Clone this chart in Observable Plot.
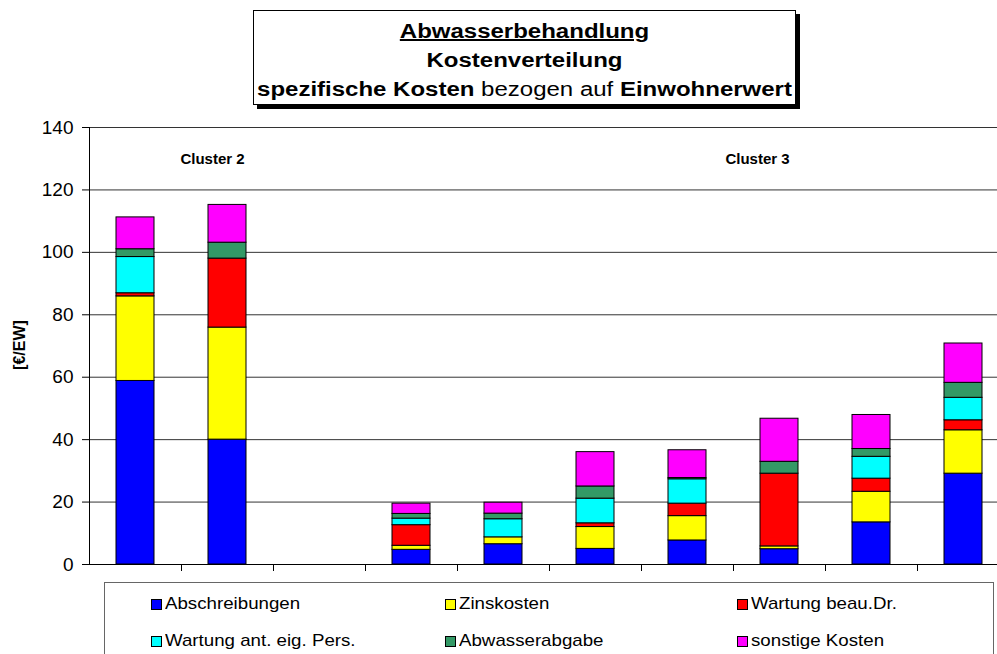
<!DOCTYPE html>
<html>
<head>
<meta charset="utf-8">
<script src="https://cdn.jsdelivr.net/npm/d3@7"></script>
<script src="https://cdn.jsdelivr.net/npm/@observablehq/plot@0.6"></script>
<style>
  html, body { margin: 0; padding: 0; background: #fff; }
  body { width: 997px; height: 654px; overflow: hidden; position: relative; font-family: "Liberation Sans", Arial, sans-serif; }
  #chart { position: absolute; left: 0; top: 0; width: 1010px; }
  #title { position: absolute; left: 253px; top: 10px; width: 541px; height: 93px; border: 1px solid #000; box-shadow: 4px 4px 0 #000; background: #fff; text-align: center; }
  #title div { font-size: 20px; line-height: 29px; transform: scaleX(1.2); transform-origin: 50% 50%; }
  #title .l1 { margin-top: 6px; font-weight: bold; text-decoration: underline; }
  #title .l2 { font-weight: bold; }
  #ylabel { position: absolute; left: 20px; top: 345px; transform: translate(-50%, -50%) rotate(-90deg); font-weight: bold; font-size: 16px; white-space: nowrap; }
  #legend { position: absolute; left: 104px; top: 582px; width: 888px; height: 90px; border: 1px solid #666; }
  .item { position: absolute; display: flex; align-items: center; font-size: 17px; white-space: nowrap; }
  .item .t { display: inline-block; transform: scaleX(1.1); transform-origin: 0 50%; }
  .sw { width: 9px; height: 9px; border: 1px solid #000; margin-right: 3px; }
</style>
</head>
<body>
<div id="chart"></div>
<div id="title">
  <div class="l1">Abwasserbehandlung</div>
  <div class="l2">Kostenverteilung</div>
  <div class="l3"><b>spezifische Kosten</b> bezogen auf <b>Einwohnerwert</b></div>
</div>
<div id="ylabel">[€/EW]</div>
<div id="legend"></div>
<script>
// Categories (bars, no labels shown in the reference)
const categories = ["1", "2", "3", "4", "5", "6", "7", "8", "9", "10"];
// Series
const series = ["Abschreibungen", "Zinskosten", "Wartung beau.Dr.", "Wartung ant. eig. Pers.", "Abwasserabgabe", "sonstige Kosten"];
const seriesColors = ["#0000ff", "#ffff00", "#ff0000", "#00ffff", "#339966", "#ff00ff"];
// Values [€/EW]
const abschreibungen = [58.8, 40.0, 0, 4.7, 6.5, 5.0, 7.7, 4.9, 13.5, 29.1];
const zinskosten     = [27.1, 35.9, 0, 1.3, 2.2, 7.0, 7.8, 0.9, 9.8, 13.9];
const wartungBeau    = [1.0, 22.1, 0, 6.6, 0, 1.2, 4.0, 23.3, 4.2, 3.2];
const wartungPers    = [11.6, 0, 0, 2.1, 5.8, 7.9, 7.8, 0, 7.0, 7.2];
const abwasserabgabe = [2.5, 5.1, 0, 1.5, 1.8, 3.9, 0.4, 3.8, 2.5, 4.8];
const sonstige       = [10.2, 12.1, 0, 3.3, 3.5, 11.0, 8.9, 13.8, 10.9, 12.6];
// Axis ticks
const yTicks = [0, 20, 40, 60, 80, 100, 120, 140];
// Cluster annotations
const clusterNames = ["Cluster 2", "Cluster 3"];
const clusterCats = ["2", "8"];
const clusterY = [130, 130];

const seriesValues = [abschreibungen, zinskosten, wartungBeau, wartungPers, abwasserabgabe, sonstige];
const data = categories.flatMap((c, i) => series.map((s, j) => ({cat: c, series: s, value: seriesValues[j][i]})));
const clusters = clusterNames.map((n, i) => ({name: n, cat: clusterCats[i], y: clusterY[i]}));

const chart = Plot.plot({
  width: 1010,
  height: 590,
  marginLeft: 89,
  marginRight: 1,
  marginTop: 127,
  marginBottom: 26,
  style: {fontFamily: "'Liberation Sans', Arial, sans-serif", maxWidth: "none", background: "transparent", overflow: "visible", color: "#000"},
  x: {domain: categories, paddingInner: 0.587, paddingOuter: 0.2935, axis: null},
  y: {domain: [0, 140], axis: null},
  color: {domain: series, range: seriesColors},
  marks: [
    Plot.ruleY(yTicks, {y: d => d, stroke: d => d === 0 ? "#000" : "#333", strokeWidth: 1}),
    Plot.barY(data, {x: "cat", y: "value", fill: "series", stroke: "#000", strokeWidth: 1, order: series}),
    Plot.ruleX([categories[0]], {x: d => d, dx: -46, y1: 0, y2: 140, stroke: "#000"}),
    Plot.axisY({ticks: yTicks, tickSize: 7, tickPadding: 9, fontSize: 19, label: null, stroke: "#000"}),
    Plot.axisX({ticks: categories, tickSize: 7, tickFormat: () => "", dx: 46, label: null, stroke: "#000"}),
    Plot.text(clusters.slice(0, 1), {x: "cat", y: "y", text: "name", dx: -15, fontWeight: "bold", fontSize: 15, fill: "#000"}),
    Plot.text(clusters.slice(1), {x: "cat", y: "y", text: "name", dx: -22, fontWeight: "bold", fontSize: 15, fill: "#000"}),
  ]
});
document.getElementById("chart").appendChild(chart);

// Legend (HTML), using the same series and colours
const legend = document.getElementById("legend");
const colX = [46, 340, 632];
const rowY = [21, 58];
series.forEach((s, i) => {
  const item = document.createElement("div");
  item.className = "item";
  item.style.left = colX[i % 3] + "px";
  item.style.top = (rowY[Math.floor(i / 3)] - 10) + "px";
  item.style.height = "20px";
  const sw = document.createElement("span");
  sw.className = "sw";
  sw.style.background = seriesColors[i];
  item.appendChild(sw);
  const t = document.createElement("span");
  t.className = "t";
  t.textContent = s;
  item.appendChild(t);
  legend.appendChild(item);
});
</script>
</body>
</html>
